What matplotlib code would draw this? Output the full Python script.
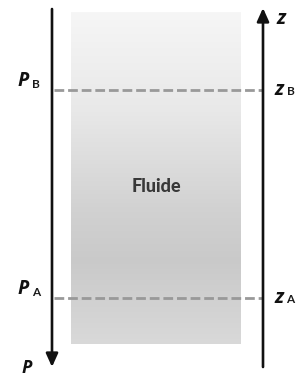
import numpy as np
import matplotlib.pyplot as plt
from matplotlib.colors import LinearSegmentedColormap

# diagram data (pixel units of a 305x378 canvas)
levels = ["A", "B"]
level_y = [298, 90]
fluid_box = [71, 241, 12, 344]          # x0, x1, y_top, y_bottom
grad_pos = [0.0, 0.3, 0.6, 0.75, 1.0]   # along the fluid, top -> bottom
grad_gray = [0.965, 0.91, 0.82, 0.79, 0.85]
p_axis_x = 52
z_axis_x = 263

fig = plt.figure(figsize=(3.05, 3.78), dpi=100)
ax = fig.add_axes([0, 0, 1, 1])
ax.set_xlim(0, 305)
ax.set_ylim(378, 0)
ax.axis("off")

# fluid with vertical gradient
cmap = LinearSegmentedColormap.from_list(
    "fluid", [(p, (g, g, g)) for p, g in zip(grad_pos, grad_gray)])
grad = np.linspace(0, 1, 256).reshape(-1, 1)
ax.imshow(grad, cmap=cmap, vmin=0, vmax=1, aspect="auto",
          extent=[fluid_box[0], fluid_box[1], fluid_box[3], fluid_box[2]],
          zorder=1)
ax.text((fluid_box[0] + fluid_box[1]) / 2, 187, "Fluide", ha="center",
        va="center", fontsize=13, fontweight=900, color="#383838",
        family="Lato", zorder=3)

# pressure axis (downwards) and altitude axis (upwards)
arrow_kw = dict(arrowstyle="-|>,head_length=0.8,head_width=0.36",
                lw=1.9, color="#111111", shrinkA=0, shrinkB=0)
ax.annotate("", xy=(p_axis_x, 367), xytext=(p_axis_x, 9),
            arrowprops=arrow_kw, zorder=4)
ax.annotate("", xy=(z_axis_x, 8), xytext=(z_axis_x, 367),
            arrowprops=arrow_kw, zorder=4)

p_kw = dict(fontsize=14, fontweight="bold", fontstyle="italic",
            family="Open Sans", color="#111111", va="baseline", ha="left")
z_kw = dict(p_kw, fontsize=14.5)
sub_kw = dict(fontsize=8.5, fontweight="bold", family="Lato",
              color="#1a1a1a", va="baseline", ha="left")

ax.text(22, 377, "P", fontsize=13, fontweight="bold", fontstyle="italic",
        family="Open Sans", color="#111111", va="bottom", ha="left")
ax.text(276, 24, "z", **z_kw)

for name, y in zip(levels, level_y):
    ax.plot([p_axis_x + 2, z_axis_x - 1], [y, y], ls=(0, (3.5, 1.4)),
            lw=2, color="#999999", zorder=2)
    ax.text(18, y - 4, "P", **p_kw)
    ax.text(32, y - 2, name, **sub_kw)
    ax.text(274, y + 5, "z", **z_kw)
    ax.text(286.5, y + 5, name, **sub_kw)

fig.savefig("out.png", dpi=100)
